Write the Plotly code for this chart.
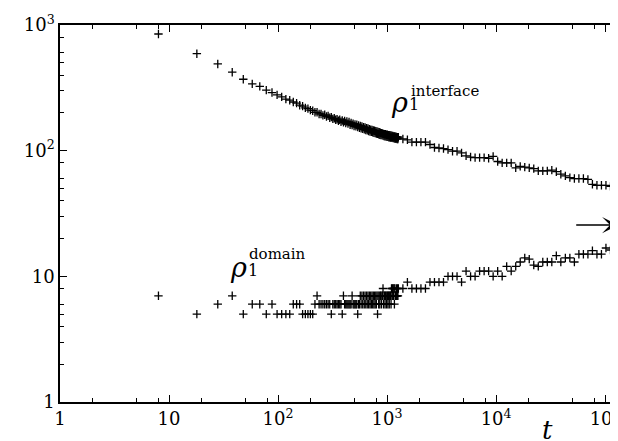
import math
import plotly.graph_objects as go

# ---- data ----
t_dense = [8,18,28,38,48,58,68,78,88,98,
           108,118,128,138,148,158,168,178,188,198,
           208,218,228,238,248,258,268,278,288,298,
           308,318,328,338,348,358,368,378,388,398,
           408,418,428,438,448,458,468,478,488,498,
           508,518,528,538,548,558,568,578,588,598,
           608,618,628,638,648,658,668,678,688,698,
           708,718,728,738,748,758,768,778,788,798,
           808,818,828,838,848,858,868,878,888,898,
           908,918,928,938,948,958,968,978,988,998,
           1008,1018,1028,1038,1048,1058,1068,1078,1088,1098,
           1108,1118,1128,1138,1148,1158,1168,1178,1188,1198,
           1208,1218,1228,1238,1248,1258]
t_sparse = [1270,1397,1537,1690,1859,2045,2250,2475,2722,2994,
            3294,3623,3986,4384,4823,5305,5836,6419,7061,7767,
            8544,9398,10340,11370,12510,13760,15140,16650,18320,20150,
            22160,24380,26820,29500,32450,35690,39260,43190,47510,52260,
            57490,63230,69560,76510,84170,92580,101800,112000,123200,135600]

interface_dense = [848,591,490,421,370,340,325,303,290,278,
                   268,257,252,244,239,230,226,219,216,210,
                   208,202,202,196,196,191,193,187,189,183,
                   185,179,181,176,178,173,176,170,174,168,
                   172,166,171,164,169,161,166,160,164,157,
                   162,156,161,154,159,152,157,151,156,149,
                   154,148,153,146,151,145,150,143,148,142,
                   147,141,146,140,145,139,144,138,143,137,
                   142,136,141,135,140,134,139,133,138,133,
                   137,132,136,131,135,130,135,130,134,129,
                   134,129,133,128,133,128,132,127,132,127,
                   131,127,131,126,130,126,130,125,129,125,
                   129,125,128,124,128,124]
interface_sparse = [128,124,122,117,117,117,117,112,106,105,
                    104,102,99,99,96,91,89,88,88,88,
                    87,90,82,80,80,80,73,75,74,73,
                    72,69,69,69,70,68,65,63,61,60,
                    60,60,59,54,53,53,53,52,53,52]

domain_dense = [7,5,6,7,5,6,6,5,6,5,
                5,5,5,6,6,6,5,5,5,5,
                5,6,7,6,6,6,6,6,6,6,
                5,6,6,6,6,6,6,6,5,7,
                6,6,6,6,6,6,6,7,6,6,
                6,6,6,5,6,6,7,6,7,6,
                7,6,7,6,7,6,7,6,7,6,
                7,6,7,6,7,6,7,6,7,6,
                7,5,7,6,7,6,7,7,6,7,
                7,8,6,7,7,6,7,7,6,7,
                7,6,7,7,6,7,7,7,6,8,
                7,8,7,8,7,8,6,8,7,7,
                7,8,7,7,8,7]
domain_sparse = [8,8,9,8,8,8,8,9,9,9,
                 9,10,10,10,9,11,10,10,11,11,
                 11,10,11,10,12,11,12,13,14,13.7,
                 12.3,12,13,13,13,14.6,13,14,14,13,
                 15,15,15,16,15,15,16.8,16.2,16.8,16.8]

x_tickvals = [1, 10, 100, 1000, 10000, 100000]
x_ticktext = ["1", "10", "10<sup>2</sup>", "10<sup>3</sup>", "10<sup>4</sup>", "10<sup>5</sup>"]
y_tickvals = [1, 10, 100, 1000]
y_ticktext = ["1", "10", "10<sup>2</sup>", "10<sup>3</sup>"]
x_minor = [2, 5, 8, 20, 50, 80, 200, 500, 800, 2000, 5000, 8000, 20000, 50000, 80000]
y_minor = [2, 3, 4, 5, 6, 8, 20, 30, 40, 50, 60, 80, 200, 300, 400, 500, 600, 800]

arrow_y = 25.6
arrow_from = 49400
arrow_to = 132000

t_all = t_dense + t_sparse
interface = interface_dense + interface_sparse
domain = domain_dense + domain_sparse

FONT = "DejaVu Serif"
marker = dict(symbol="cross-thin", size=6, line=dict(width=1.3, color="black"), color="black")

fig = go.Figure()
fig.add_trace(go.Scatter(x=t_all, y=interface, mode="markers", marker=marker, name="interface"))
fig.add_trace(go.Scatter(x=t_all, y=domain, mode="markers", marker=marker, name="domain"))

axis_common = dict(
    type="log", showgrid=False, zeroline=False,
    showline=True, linecolor="black", linewidth=1.5, mirror="allticks",
    ticks="inside", ticklen=7, tickwidth=1.2, tickcolor="black",
    tickfont=dict(family=FONT, size=18, color="black"),
)
fig.update_xaxes(range=[0, 5.155], tickmode="array", tickvals=x_tickvals, ticktext=x_ticktext,
                 minor=dict(tickmode="array", tickvals=x_minor, ticks="inside", ticklen=4,
                            tickwidth=1, tickcolor="black", showgrid=False),
                 **axis_common)
fig.update_yaxes(range=[0, 3], tickmode="array", tickvals=y_tickvals, ticktext=y_ticktext,
                 minor=dict(tickmode="array", tickvals=y_minor, ticks="inside", ticklen=4,
                            tickwidth=1, tickcolor="black", showgrid=False),
                 **axis_common)

def px(x):
    return (x - 52) / 564.0

def py(y):
    return (394 - y) / 377.0

annos = [
    dict(text="<i>ρ</i>", x=px(382), y=py(94), size=27),
    dict(text="1", x=px(400), y=py(97), size=16),
    dict(text="interface", x=px(402), y=py(83), size=15),
    dict(text="<i>ρ</i>", x=px(221), y=py(259), size=27),
    dict(text="1", x=px(239), y=py(262), size=16),
    dict(text="domain", x=px(240), y=py(246), size=15),
]
for a in annos:
    fig.add_annotation(text=a["text"], x=a["x"], y=a["y"], xref="paper", yref="paper",
                       xanchor="left", yanchor="middle", showarrow=False,
                       font=dict(family=FONT, size=a["size"], color="black"))

fig.add_annotation(text="<i>t</i>", x=px(541), y=py(422), xref="paper", yref="paper",
                   xanchor="center", yanchor="middle", showarrow=False,
                   font=dict(family=FONT, size=26, color="black"))

fig.add_annotation(text=" ", x=math.log10(arrow_to), y=math.log10(arrow_y),
                   ax=math.log10(arrow_from), ay=math.log10(arrow_y),
                   xref="x", yref="y", axref="x", ayref="y", standoff=0,
                   showarrow=True, arrowhead=3, arrowsize=1.8, arrowwidth=1.5, arrowcolor="black")

fig.update_layout(width=618, height=441, margin=dict(l=52, r=2, t=17, b=47),
                  plot_bgcolor="white", paper_bgcolor="white", showlegend=False,
                  font=dict(family=FONT, size=18, color="black"))

fig.write_html("out.html")
